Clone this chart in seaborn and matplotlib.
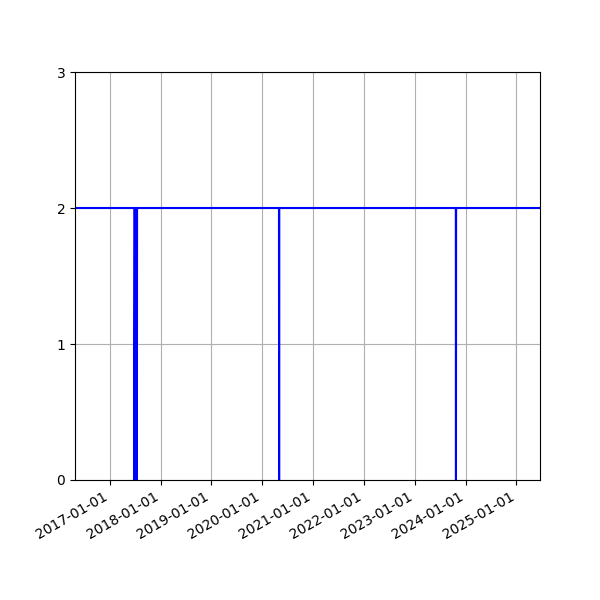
import pandas as pd
import matplotlib
matplotlib.use("Agg")
import matplotlib.pyplot as plt
import matplotlib.dates as mdates
import seaborn as sns

# status readings: stays at 2, short outages to 0
dates = [
    "2016-04-25", "2017-06-25", "2017-06-26", "2017-07-01", "2017-07-02",
    "2017-07-07", "2017-07-08", "2017-07-14", "2017-07-15",
    "2020-04-30", "2020-05-01", "2020-05-02",
    "2023-10-23", "2023-10-24", "2023-10-25", "2025-06-19",
]
values = [2, 2, 0, 2, 0, 2, 0, 0, 2, 2, 0, 2, 2, 0, 2, 2]
y_ticks = [0, 1, 2, 3]

df = pd.DataFrame({"date": pd.to_datetime(dates), "value": values})

fig, ax = plt.subplots(figsize=(6, 6), dpi=100)
sns.lineplot(data=df, x="date", y="value", color="blue", linewidth=1.5, ax=ax)

ax.set_xlim(df["date"].min(), df["date"].max())
ax.set_ylim(0, 3)
ax.set_yticks(y_ticks)
ax.xaxis.set_major_locator(mdates.YearLocator())
ax.xaxis.set_major_formatter(mdates.DateFormatter("%Y-%m-%d"))
ax.set_xlabel("")
ax.set_ylabel("")
ax.grid(True)
fig.autofmt_xdate()

fig.savefig("out.png", dpi=100)
